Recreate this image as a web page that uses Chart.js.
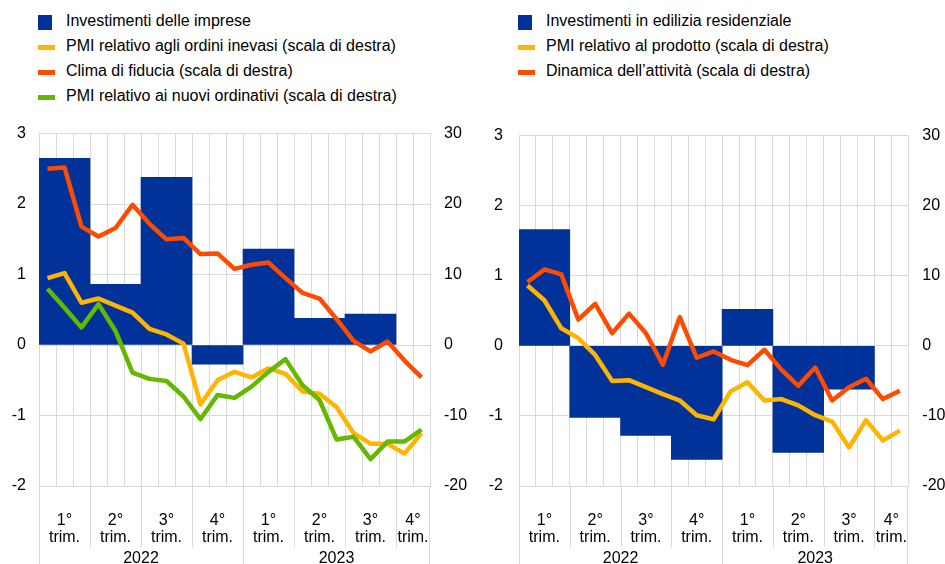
<!DOCTYPE html>
<html>
<head>
<meta charset="utf-8">
<script src="https://cdn.jsdelivr.net/npm/chart.js@4.4.1/dist/chart.umd.min.js"></script>
<style>
  body { margin: 0; background: #fff; font-family: "Liberation Sans", Arial, sans-serif; }
  #wrap { position: relative; width: 945px; height: 564px; overflow: hidden; }
  canvas { position: absolute; top: 110px; }
  .legend { position: absolute; top: 0; font-size: 16px; color: #000; }
  .legend .row { position: absolute; left: 0; height: 20px; line-height: 20px; white-space: nowrap; }
  .legend .box { position: absolute; left: 0; }
  .legend .bar { width: 14px; height: 15px; top: 4.4px; }
  .legend .line { width: 17px; height: 5px; top: 9.4px; }
  .legend .label { position: absolute; left: 28px; top: 0; }
</style>
</head>
<body>
<div id="wrap">
  <div class="legend" id="legendLeft" style="left:38px"></div>
  <div class="legend" id="legendRight" style="left:518px"></div>
  <canvas id="chartLeft" width="472" height="454" style="left:0"></canvas>
  <canvas id="chartRight" width="473" height="454" style="left:472px"></canvas>
</div>
<script>
// monthly categories, Jan 2022 - Nov 2023
const months = ["gen", "feb", "mar", "apr", "mag", "giu", "lug", "ago", "set", "ott", "nov", "dic",
                "gen", "feb", "mar", "apr", "mag", "giu", "lug", "ago", "set", "ott", "nov"];
const quarterLabels = ["1°", "2°", "3°", "4°", "1°", "2°", "3°", "4°"];
const years = ["2022", "2023"];

// left panel
const investImprese = [2.65, 0.86, 2.38, -0.27, 1.36, 0.38, 0.44, null];
const pmiOrdiniInevasi = [9.5, 10.2, 6.0, 6.6, 5.6, 4.6, 2.3, 1.5, 0.2, -8.4, -5.0, -3.8,
                          -4.6, -3.3, -4.1, -6.6, -6.9, -8.8, -12.5, -14.0, -14.0, -15.4, -12.5];
const climaFiducia = [25.0, 25.2, 16.8, 15.4, 16.6, 19.9, 17.2, 15.0, 15.2, 12.9, 13.0, 10.8,
                      11.4, 11.7, 9.5, 7.4, 6.6, 3.7, 0.6, -0.9, 0.5, -2.2, -4.6];
const pmiNuoviOrdini = [8.0, 5.3, 2.5, 5.8, 2.0, -3.9, -4.8, -5.1, -7.3, -10.5, -7.1, -7.5,
                        -5.9, -3.8, -2.0, -5.7, -7.8, -13.4, -13.0, -16.2, -13.7, -13.7, -12.0];

// right panel
const investEdilizia = [1.66, -1.02, -1.28, -1.62, 0.52, -1.52, -0.62, null];
const pmiProdotto = [8.6, 6.5, 2.5, 1.1, -1.3, -5.0, -4.9, -5.9, -6.9, -7.8, -9.9, -10.5,
                     -6.5, -5.2, -7.8, -7.6, -8.5, -9.9, -10.8, -14.5, -10.6, -13.5, -12.1];
const dinamicaAttivita = [9.1, 10.9, 10.2, 3.75, 6.0, 1.8, 4.6, 1.8, -2.7, 4.1, -1.7, -0.8,
                          -2.0, -2.75, -0.56, -3.4, -5.7, -3.1, -7.8, -5.9, -4.7, -7.6, -6.4];

const BLUE = "#003299";
const YELLOW = "#FFB400";
const ORANGE = "#FF4B00";
const GREEN = "#65B800";
const GRID = "#d9d9d9";

Chart.defaults.font.family = '"Liberation Sans", Arial, sans-serif';
Chart.defaults.font.size = 16;
Chart.defaults.color = "#000";

// spread a quarterly value over its months
function quarterly(values) {
  return months.map((m, i) => values[Math.floor(i / 3)]);
}

function buildLegend(id, items) {
  const el = document.getElementById(id);
  items.forEach((item, i) => {
    const row = document.createElement("div");
    row.className = "row";
    row.style.top = (10.5 + 25 * i) + "px";
    row.innerHTML = `<span class="box ${item.kind}" style="background:${item.color}"></span>` +
                    `<span class="label">${item.text}</span>`;
    el.appendChild(row);
  });
}

// quarter / year labels under the plot
const periodLabels = {
  id: "periodLabels",
  afterDraw(chart) {
    const { ctx, chartArea, scales: { x } } = chart;
    const n = months.length;
    const w = x.width / n;
    const edge = k => Math.round(x.left + k * w) + 0.5;
    const bottom = chartArea.bottom;

    ctx.save();
    ctx.strokeStyle = GRID;
    ctx.lineWidth = 1;
    ctx.fillStyle = "#000";
    ctx.font = '16px "Liberation Sans", Arial, sans-serif';
    ctx.textAlign = "center";
    ctx.textBaseline = "alphabetic";

    for (let q = 0; q * 3 < n; q++) {
      const a = q * 3, b = Math.min(q * 3 + 3, n);
      ctx.beginPath();
      ctx.moveTo(edge(a), bottom);
      ctx.lineTo(edge(a), bottom + 61);
      ctx.stroke();
      const cx = x.left + (a + b) / 2 * w;
      ctx.fillText(quarterLabels[q], cx, bottom + 39);
      ctx.fillText("trim.", cx, bottom + 56);
    }
    for (let y = 0; y * 12 < n; y++) {
      const a = y * 12, b = Math.min(y * 12 + 12, n);
      ctx.beginPath();
      ctx.moveTo(edge(a), bottom);
      ctx.lineTo(edge(a), chart.height);
      ctx.stroke();
      ctx.fillText(years[y], x.left + (a + b) / 2 * w, bottom + 77);
    }
    ctx.beginPath();
    ctx.moveTo(edge(n) - 1, bottom);
    ctx.lineTo(edge(n) - 1, chart.height);
    ctx.stroke();
    ctx.restore();
  }
};

function lineSet(label, data, color, order) {
  return {
    type: "line",
    label,
    data,
    yAxisID: "y2",
    borderColor: color,
    backgroundColor: color,
    borderWidth: 4.5,
    borderJoinStyle: "round",
    pointRadius: 0,
    tension: 0,
    fill: false,
    order
  };
}

function makeChart(id, bars, lines, dims) {
  return new Chart(document.getElementById(id), {
    type: "bar",
    data: {
      labels: months,
      datasets: [
        {
          type: "bar",
          label: bars.label,
          data: quarterly(bars.data),
          yAxisID: "y",
          backgroundColor: BLUE,
          borderWidth: 0,
          barPercentage: 1,
          categoryPercentage: 1,
          order: 10
        },
        ...lines
      ]
    },
    options: {
      responsive: false,
      animation: false,
      layout: { padding: { top: 20 } },
      plugins: { legend: { display: false }, tooltip: { enabled: false } },
      scales: {
        x: {
          offset: true,
          grid: { offset: true, color: GRID, drawTicks: false },
          border: { color: GRID },
          ticks: { display: false },
          afterFit: s => { s.height = 78; }
        },
        y: {
          position: "left",
          min: -2,
          max: 3,
          ticks: { stepSize: 1, padding: dims.padLeft },
          grid: { color: GRID, drawTicks: false },
          border: { display: false },
          afterFit: s => { s.width = dims.left; }
        },
        y2: {
          position: "right",
          min: -20,
          max: 30,
          ticks: { stepSize: 10, padding: dims.padRight },
          grid: { drawOnChartArea: false, drawTicks: false },
          border: { color: GRID },
          afterFit: s => { s.width = dims.right; }
        }
      }
    },
    plugins: [periodLabels]
  });
}

buildLegend("legendLeft", [
  { kind: "bar", color: BLUE, text: "Investimenti delle imprese" },
  { kind: "line", color: YELLOW, text: "PMI relativo agli ordini inevasi (scala di destra)" },
  { kind: "line", color: ORANGE, text: "Clima di fiducia (scala di destra)" },
  { kind: "line", color: GREEN, text: "PMI relativo ai nuovi ordinativi (scala di destra)" }
]);
buildLegend("legendRight", [
  { kind: "bar", color: BLUE, text: "Investimenti in edilizia residenziale" },
  { kind: "line", color: YELLOW, text: "PMI relativo al prodotto (scala di destra)" },
  { kind: "line", color: ORANGE, text: "Dinamica dell’attività (scala di destra)" }
]);

makeChart("chartLeft",
  { label: "Investimenti delle imprese", data: investImprese },
  [
    lineSet("PMI relativo agli ordini inevasi", pmiOrdiniInevasi, YELLOW, 3),
    lineSet("Clima di fiducia", climaFiducia, ORANGE, 2),
    lineSet("PMI relativo ai nuovi ordinativi", pmiNuoviOrdini, GREEN, 1)
  ],
  { left: 39, right: 42, padLeft: 13, padRight: 14 });

makeChart("chartRight",
  { label: "Investimenti in edilizia residenziale", data: investEdilizia },
  [
    lineSet("PMI relativo al prodotto", pmiProdotto, YELLOW, 3),
    lineSet("Dinamica dell’attività", dinamicaAttivita, ORANGE, 2)
  ],
  { left: 47, right: 36.7, padLeft: 16, padRight: 14 });
</script>
</body>
</html>
